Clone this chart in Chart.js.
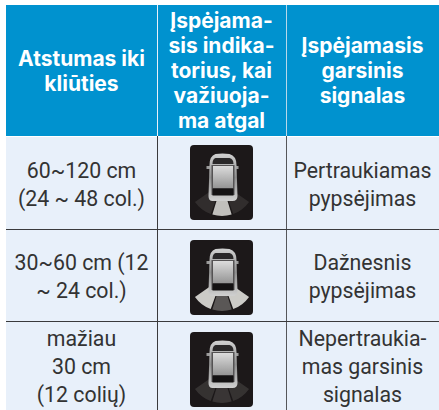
<!DOCTYPE html>
<html><head><meta charset="utf-8">
<script src="https://cdn.jsdelivr.net/npm/chart.js@4/dist/chart.umd.min.js"></script>
<style>
html,body{margin:0;padding:0;background:#fff;width:439px;height:410px;overflow:hidden}
#wrap{position:absolute;left:0;top:0;width:439px;height:410px;overflow:hidden}
.c{position:absolute;display:flex;align-items:center;justify-content:center;text-align:center;box-sizing:border-box;white-space:nowrap}
.h{background:#0092cf;color:#fff;font:700 21px/25px Inter,sans-serif}
.b{background:#e8f0fa;color:#333;font:400 21.3px/28px Roboto,sans-serif;padding-top:3px}
.icon{position:absolute;width:63px;height:75px;border-radius:4px;background:#1c1819;overflow:hidden}
.icon canvas{position:absolute;left:-13.5px;top:-7px;filter:blur(.6px)}
</style></head><body><div id="wrap"></div>
<script>
const headers=["Atstumas iki<br>kliūties","Įspėjama-<br>sis indika-<br>torius, kai<br>važiuoja-<br>ma atgal","Įspėjamasis<br>garsinis<br>signalas"];
const distances=["60~120 cm<br>(24 ~ 48 col.)","30~60 cm (12<br>~ 24 col.)","mažiau<br>30 cm<br>(12 colių)"];
const sounds=["Pertraukiamas<br>pypsėjimas","Dažnesnis<br>pypsėjimas","Nepertraukia-<br>mas garsinis<br>signalas"];
const zoneLabels=["right","gap","centre","gap","left","rest"];
const zoneSweeps=[35,3,34,3,35,250];
const zoneLevels=[[.1,0,.8,0,.1,0],[.85,0,.3,0,.85,0],[.12,0,.14,0,.12,0]];
const colEdges=[6,157,286,439], headerBottom=136, rowEdges=[137,229.5,321,410];
const wrap=document.getElementById('wrap');
function cell(cls,x0,x1,y0,y1,html){const d=document.createElement('div');d.className='c '+cls;
 d.style.cssText=`left:${x0}px;width:${x1-x0}px;top:${y0}px;height:${y1-y0}px`;d.innerHTML=html;wrap.appendChild(d);return d;}
headers.forEach((h,i)=>cell('h',colEdges[i],colEdges[i+1],5,headerBottom,h));
function line(x,y,w,h,col){const d=document.createElement('div');d.style.cssText=`position:absolute;left:${x}px;top:${y}px;width:${w}px;height:${h}px;background:${col}`;wrap.appendChild(d);}
distances.forEach((t,r)=>{
 cell('b',colEdges[0],colEdges[1],rowEdges[r],rowEdges[r+1],t);
 cell('b',colEdges[1],colEdges[2],rowEdges[r],rowEdges[r+1],'');
 cell('b',colEdges[2],colEdges[3],rowEdges[r],rowEdges[r+1],sounds[r]);
});
line(157,5,1,131,'#e8f0fa');line(285.5,5,1,131,'#b7d8ea');
line(157,136,1,274,'#3a3a3c');line(285.5,136,1.5,274,'#55565a');
line(6,229,433,1,'#3a3a3c');line(6,320.5,433,1,'#3a3a3c');
const iconTops=[145,240,332];
const carPlugin={id:'car',afterDraw(ch){const c=ch.ctx;c.save();
 c.translate(13.5,7);
 c.fillStyle='#9a9a9a';c.fillRect(16,21,4,3);c.fillRect(44,21,4,3);
 const g=c.createLinearGradient(0,9,0,56);g.addColorStop(0,'#d0d0d0');g.addColorStop(.5,'#8f8f8f');g.addColorStop(1,'#d0d0d0');
 c.fillStyle=g;c.beginPath();c.moveTo(25,9);c.quadraticCurveTo(32,8,39,9);c.quadraticCurveTo(46,11,46,20);c.lineTo(47,51);c.quadraticCurveTo(47,56,42,56);c.lineTo(22,56);c.quadraticCurveTo(18,56,18,51);c.lineTo(19,20);c.quadraticCurveTo(19,11,25,9);c.fill();
 c.fillStyle='#2a2829';c.beginPath();c.moveTo(25,13);c.lineTo(39,13);c.quadraticCurveTo(43,14,43,19);c.lineTo(22,19);c.quadraticCurveTo(22,14,25,13);c.fill();
 c.fillStyle='#555354';c.fillRect(21,20,23,30);
 const w=c.createLinearGradient(0,21,0,43);w.addColorStop(0,'#dcdcdc');w.addColorStop(1,'#959595');
 c.fillStyle=w;c.fillRect(22.5,21,20,22);
 c.fillStyle='#141213';c.fillRect(22,43.5,21,7);
 c.restore();}};
iconTops.forEach((top,r)=>{
 const box=document.createElement('div');box.className='icon';box.style.left='190px';box.style.top=top+'px';
 const cv=document.createElement('canvas');cv.width=90;cv.height=90;cv.style.width='90px';cv.style.height='90px';
 box.appendChild(cv);wrap.appendChild(box);
 new Chart(cv,{type:'doughnut',plugins:[carPlugin],data:{labels:zoneLabels,datasets:[{data:zoneSweeps,borderWidth:0,
   backgroundColor:zoneLevels[r].map(a=>`rgba(235,235,230,${a})`)}]},
  options:{responsive:false,animation:false,rotation:125,radius:33,cutout:20,layout:{padding:0},
   plugins:{legend:{display:false},tooltip:{enabled:false}}}});
});
</script></body></html>
